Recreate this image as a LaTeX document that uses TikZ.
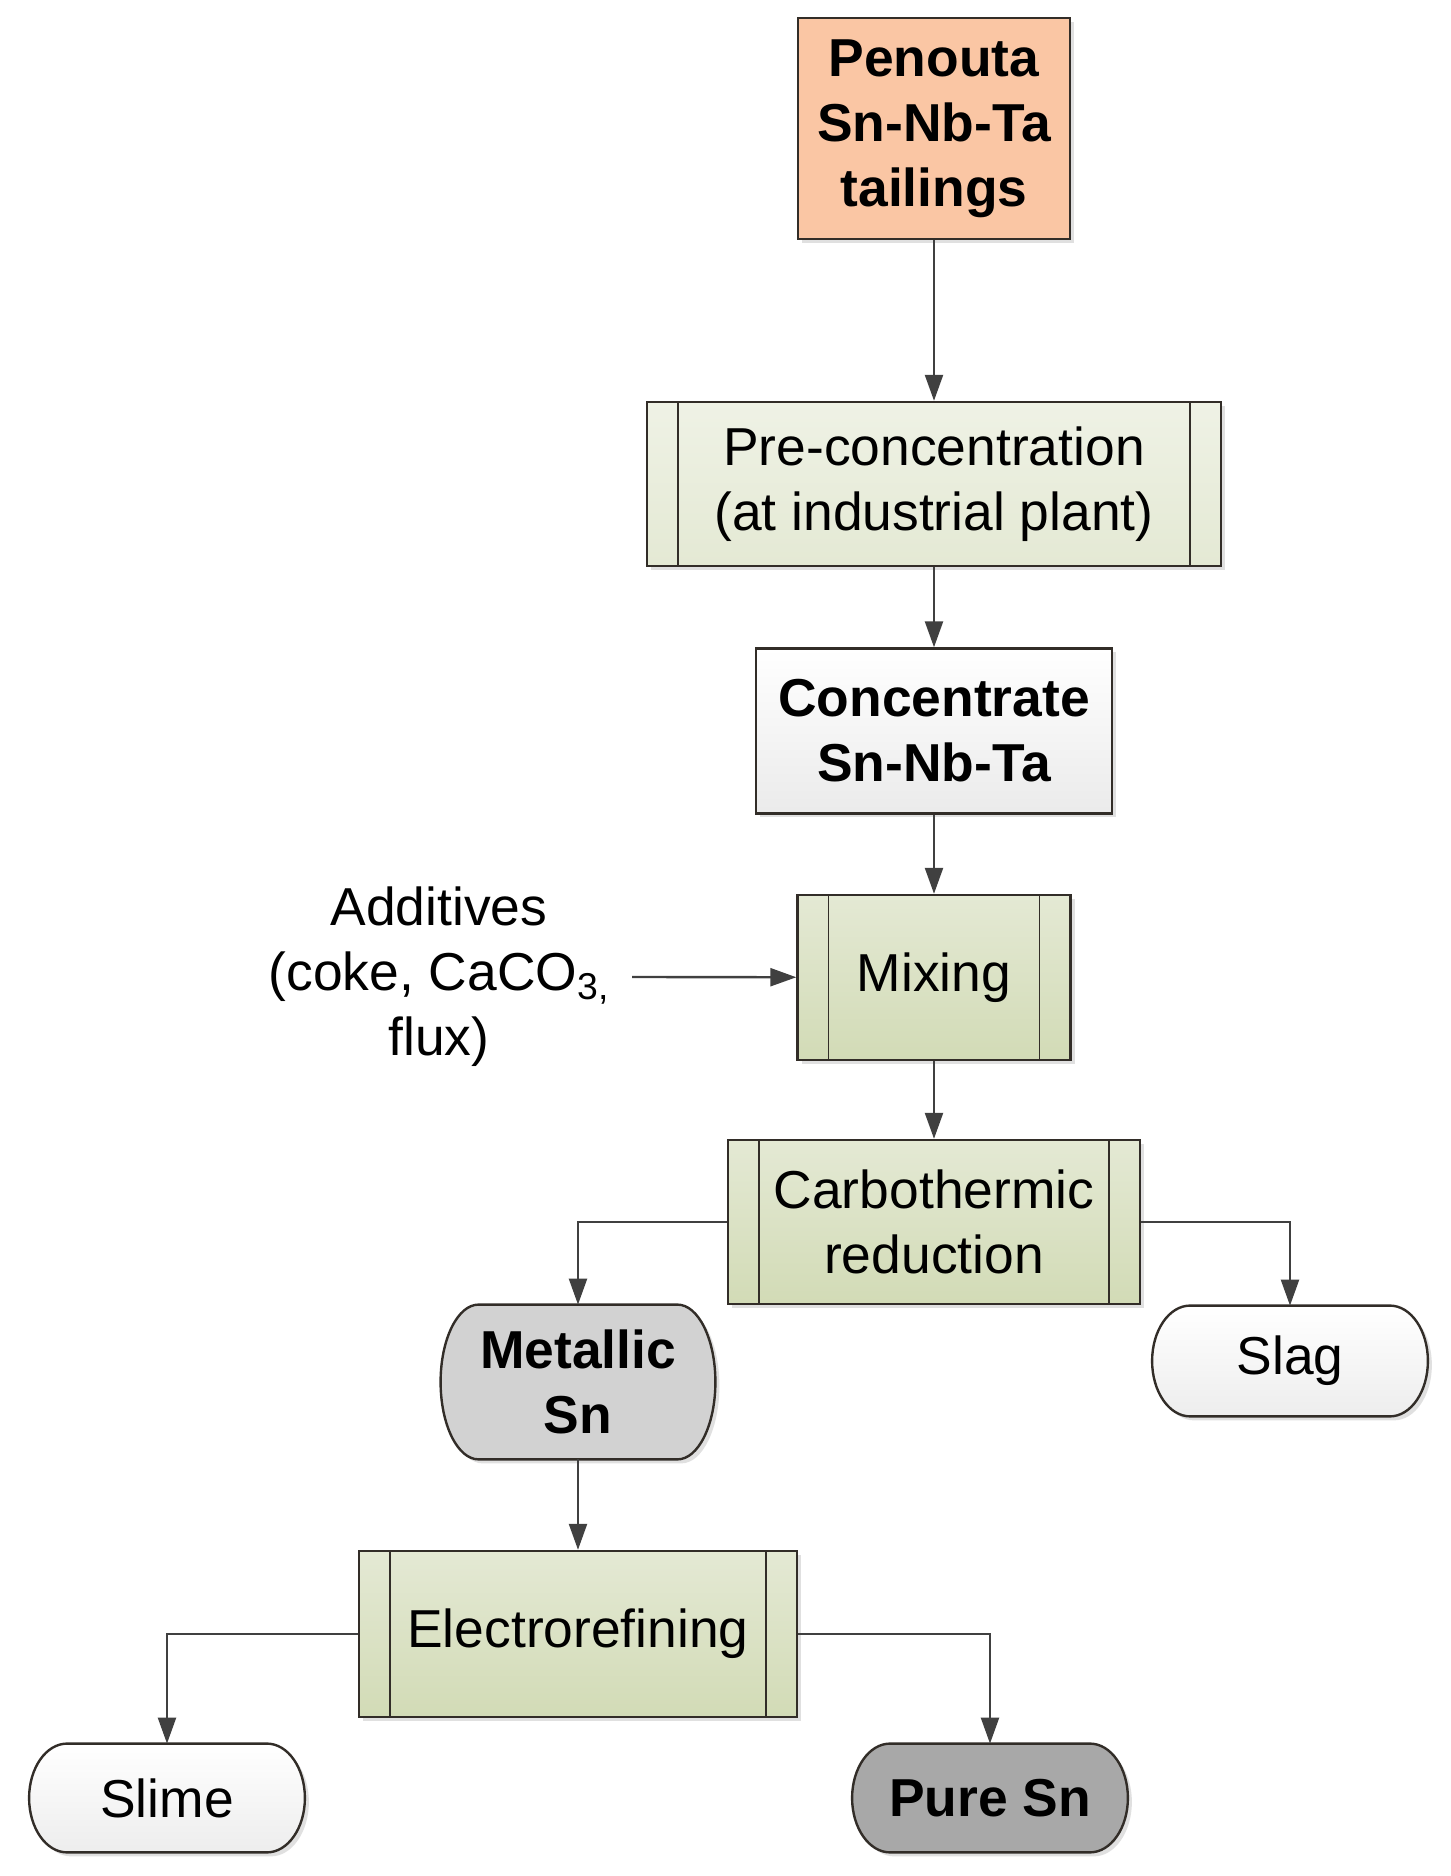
\documentclass[tikz,border=0pt]{standalone}
\usepackage{fontspec}
\setmainfont{Liberation Sans}
\usetikzlibrary{arrows.meta,calc,shadows,backgrounds}

\definecolor{peach}{RGB}{250,198,164}
\definecolor{sage}{RGB}{210,219,182}
\definecolor{sagelight}{RGB}{228,233,212}
\definecolor{edge}{RGB}{50,45,40}
\definecolor{wire}{RGB}{64,64,64}
\definecolor{metalgray}{RGB}{210,210,210}
\definecolor{puregray}{RGB}{168,168,168}

\newcommand\bodyfont{\fontsize{26.7}{32.5}\selectfont}

\tikzset{
  shade box/.style={drop shadow={shadow xshift=2pt,shadow yshift=-2pt,fill=black!40,opacity=.3}},
  base/.style={draw=edge, line width=1.2pt, align=center, inner sep=2pt, font=\bodyfont, shade box},
  feed/.style={base, fill=peach, font=\bodyfont\bfseries},
  proc/.style={base, top color=sagelight, bottom color=sage,
    path picture={
      \draw[edge,line width=.8pt] ([xshift=15.5pt]path picture bounding box.north west) -- ([xshift=15.5pt]path picture bounding box.south west);
      \draw[edge,line width=.8pt] ([xshift=-15.5pt]path picture bounding box.north east) -- ([xshift=-15.5pt]path picture bounding box.south east);}},
  prod/.style={base, top color=white, bottom color=black!8, font=\bodyfont\bfseries},
  capnode/.style={align=center, inner sep=2pt, font=\bodyfont},
  flow/.style={wire, line width=1.2pt, -{Triangle[length=13pt,width=9pt]}},
}

% capsule outline behind a node: name, fill options
\newcommand\capsule[2]{%
  \begin{pgfonlayer}{background}
  \path[draw=edge, line width=1.2pt, shade box, #2]
    let \p1=(#1.north), \p2=(#1.south), \n1={0.5*(\y1-\y2)} in
    ([xshift=19pt]#1.north west) -- ([xshift=-19pt]#1.north east)
    arc[start angle=90, end angle=-90, x radius=19pt, y radius=\n1]
    -- ([xshift=19pt]#1.south west)
    arc[start angle=270, end angle=90, x radius=19pt, y radius=\n1] -- cycle;
  \end{pgfonlayer}}

\begin{document}
\begin{tikzpicture}[x=0.5pt,y=0.5pt]
\begin{pgfonlayer}{background}
\fill[white] (0,0) rectangle (1451,1876);
\end{pgfonlayer}
\useasboundingbox (0,0) rectangle (1451,1876);
% main line
\node[feed, minimum width=136pt, minimum height=110.5pt] (tail) at (934,1747.5) {Penouta\\Sn-Nb-Ta\\tailings};
\node[proc, top color=sagelight!60!white, bottom color=sagelight, minimum width=287pt, minimum height=82pt] (precon) at (934,1392) {Pre-concentration\\(at industrial plant)};
\node[prod, minimum width=178pt, minimum height=82.5pt] (conc) at (934,1145) {Concentrate\\Sn-Nb-Ta};
\node[proc, minimum width=136.5pt, minimum height=82.5pt] (mix) at (934,898.5) {Mixing};
\node[capnode] (add) at (439,899) {Additives\\(coke, CaCO\textsubscript{3,}\\flux)};
\coordinate (addin) at (632,899);
\node[proc, minimum width=206pt, minimum height=82pt] (carbo) at (934,654) {Carbothermic\\reduction};
% products of reduction
\node[capnode, font=\bodyfont\bfseries, minimum width=137pt, minimum height=77pt] (metal) at (578,494) {Metallic\\Sn};
\capsule{metal}{fill=metalgray}
\node[capnode, minimum width=137.5pt, minimum height=55pt] (slag) at (1290,515) {Slag};
\capsule{slag}{top color=white, bottom color=black!7}
\node[proc, minimum width=219pt, minimum height=83pt] (elec) at (578,242) {Electrorefining};
% products of refining
\node[capnode, minimum width=137.5pt, minimum height=54pt] (slime) at (167,78) {Slime};
\capsule{slime}{top color=white, bottom color=black!7}
\node[capnode, font=\bodyfont\bfseries, minimum width=137.5pt, minimum height=54pt] (pure) at (990,78) {Pure Sn};
\capsule{pure}{fill=puregray}
% connectors
\draw[flow] (tail) -- (precon);
\draw[flow] (precon) -- (conc);
\draw[flow] (conc) -- (mix);
\draw[flow] (addin) -- (mix);
\draw[flow] (mix) -- (carbo);
\draw[flow] (carbo.west) -| (metal.north);
\draw[flow] (carbo.east) -| (slag.north);
\draw[flow] (metal) -- (elec);
\draw[flow] (elec.west) -| (slime.north);
\draw[flow] (elec.east) -| (pure.north);
\end{tikzpicture}
\end{document}
